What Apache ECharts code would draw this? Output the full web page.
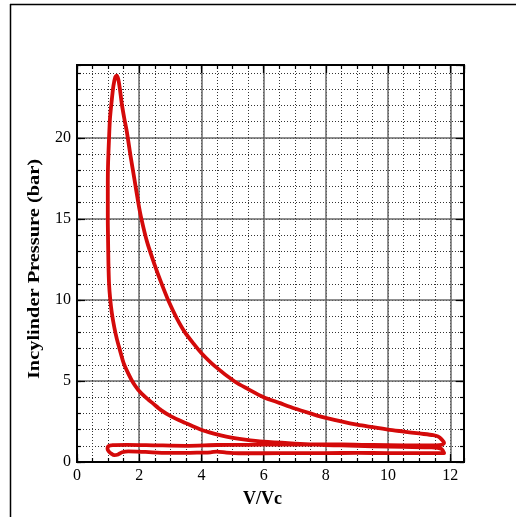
<!DOCTYPE html>
<html>
<head>
<meta charset="utf-8">
<script src="https://cdn.jsdelivr.net/npm/echarts@6/dist/echarts.min.js"></script>
<style>
  html, body { margin: 0; padding: 0; background: #ffffff; }
  #chart { width: 516px; height: 517px; }
</style>
</head>
<body>
<div id="chart"></div>
<script>
// Engine p-V loop: compression, combustion peak, expansion, blowdown,
// exhaust stroke and intake stroke, traced in order.
const volumeRatio = [
  11.8, 11.72, 11.4, 10.5, 9.5, 8.5, 8.0, 7.0, 6.0, 5.4, 4.8, 4.4, 3.95, 3.5, 3.04, 2.7, 2.45, 2.2, 1.97, 1.8,
  1.65, 1.5, 1.38, 1.28, 1.2, 1.12, 1.07, 1.03, 1.01, 1.0, 0.99, 0.99, 0.99, 1.0, 1.03, 1.06, 1.11, 1.17, 1.23, 1.28,
  1.33, 1.38, 1.44, 1.52, 1.6, 1.72, 1.85, 1.97, 2.06, 2.25, 2.49, 2.7, 2.95, 3.2, 3.47, 3.75, 4.01, 4.44, 5.08, 5.5,
  6.0, 6.5, 7.0, 7.5, 8.0, 9.0, 10.0, 10.5, 11.0, 11.45, 11.6, 11.72, 11.8, 11.72, 11.3, 10.5, 9.5, 8.5, 7.5, 6.5,
  5.5, 4.5, 3.5, 2.5, 1.6, 1.15, 1.0, 0.98, 1.02, 1.1, 1.2, 1.32, 1.45, 1.65, 2.2, 2.9, 3.5, 3.95, 4.3, 4.5,
  4.8, 5.2, 6.0, 7.0, 8.0, 9.0, 10.0, 11.0, 11.8
];
const pressure = [
  0.55, 0.8, 0.9, 0.93, 0.97, 1.02, 1.05, 1.14, 1.25, 1.38, 1.56, 1.75, 2.02, 2.4, 2.8, 3.2, 3.6, 4.0, 4.45, 4.9,
  5.45, 6.1, 6.9, 7.6, 8.3, 9.2, 10.0, 11.0, 12.3, 13.5, 15.0, 16.5, 17.4, 18.5, 20.0, 21.2, 22.2, 23.2, 23.75, 23.85,
  23.6, 23.0, 22.1, 21.2, 20.4, 18.9, 17.4, 16.0, 15.1, 13.6, 12.2, 11.1, 9.9, 8.9, 8.0, 7.3, 6.7, 5.9, 4.95, 4.5,
  4.0, 3.65, 3.3, 3.0, 2.72, 2.3, 2.0, 1.88, 1.76, 1.66, 1.58, 1.4, 1.18, 1.06, 1.02, 1.03, 1.05, 1.08, 1.08, 1.08,
  1.06, 1.05, 1.0, 1.03, 1.06, 1.04, 0.96, 0.82, 0.66, 0.52, 0.42, 0.46, 0.6, 0.66, 0.62, 0.56, 0.56, 0.58, 0.6, 0.64,
  0.58, 0.54, 0.54, 0.55, 0.55, 0.56, 0.55, 0.55, 0.55
];

// Axis ranges and spacing of the labelled and dotted grid lines
const xRange = [0, 12.44];
const yRange = [0, 24.5];
const xMajorStep = 2;
const xMinorStep = 0.5;
const yMajorStep = 5;
const yMinorStep = 1;
const xTitle = 'V/Vc';
const yTitle = 'Incylinder Pressure (bar)';

const loopPoints = volumeRatio.map((v, i) => [v, pressure[i]]);

const serif = "'Liberation Serif', 'Times New Roman', 'DejaVu Serif', serif";

function frameAxis(pos, step, tickLen, withLabels, extra) {
  const vertical = pos === 'left' || pos === 'right';
  return Object.assign({
    type: 'value',
    position: pos,
    min: vertical ? yRange[0] : xRange[0],
    max: vertical ? yRange[1] : xRange[1],
    interval: step,
    axisLine: { show: true, onZero: false, lineStyle: { color: '#000', width: 2 } },
    axisTick: { show: true, inside: true, length: tickLen, lineStyle: { color: '#000', width: 1.2 } },
    axisLabel: withLabels
      ? { show: true, showMaxLabel: false, color: '#000', fontFamily: serif, fontSize: 16, margin: 6 }
      : { show: false },
    splitLine: { show: false }
  }, extra || {});
}

const dottedGrid = { show: true, lineStyle: { color: '#333', width: 1, type: [1, 2] } };
const solidGrid = { show: true, lineStyle: { color: '#6a6a6a', width: 1.5 } };

const chart = echarts.init(document.getElementById('chart'), null, { renderer: 'canvas' });
chart.setOption({
  backgroundColor: '#ffffff',
  animation: false,
  grid: { left: 77, right: 52, top: 65, bottom: 55, containLabel: false },
  xAxis: [
    // dotted minor grid with short ticks on bottom and top edges
    frameAxis('bottom', xMinorStep, 4, false, { splitLine: dottedGrid }),
    frameAxis('top', xMinorStep, 4, false),
    // labelled axis with solid major grid and longer ticks
    frameAxis('bottom', xMajorStep, 8, true, {
      splitLine: solidGrid,
      name: xTitle,
      nameLocation: 'middle',
      nameGap: 28,
      nameTextStyle: { color: '#000', fontFamily: serif, fontSize: 18, fontWeight: 'bold', padding: [0, 16, 0, 0] }
    }),
    frameAxis('top', xMajorStep, 8, false)
  ],
  yAxis: [
    frameAxis('left', yMinorStep, 4, false, { splitLine: dottedGrid }),
    frameAxis('right', yMinorStep, 4, false),
    frameAxis('left', yMajorStep, 8, true, { splitLine: solidGrid }),
    frameAxis('right', yMajorStep, 8, false)
  ],
  graphic: [
    // page border on the left and top
    { type: 'line', shape: { x1: 10.5, y1: 4, x2: 10.5, y2: 517 }, style: { stroke: '#000', lineWidth: 1.5 } },
    { type: 'line', shape: { x1: 10, y1: 4.5, x2: 516, y2: 4.5 }, style: { stroke: '#000', lineWidth: 1.5 } },
    // vertical axis title, widened along its baseline
    {
      type: 'text',
      x: 35,
      y: 269,
      rotation: Math.PI / 2,
      scaleX: 1.2,
      style: {
        text: yTitle,
        fill: '#000',
        fontFamily: serif,
        fontSize: 17,
        fontWeight: 'bold',
        align: 'center',
        verticalAlign: 'middle'
      }
    }
  ],
  series: [{
    type: 'line',
    xAxisIndex: 2,
    yAxisIndex: 2,
    data: loopPoints,
    showSymbol: false,
    smooth: 0.25,
    clip: false,
    lineStyle: { color: '#d40a0a', width: 3.8, join: 'round', cap: 'round' },
    z: 5
  }]
});
</script>
</body>
</html>
